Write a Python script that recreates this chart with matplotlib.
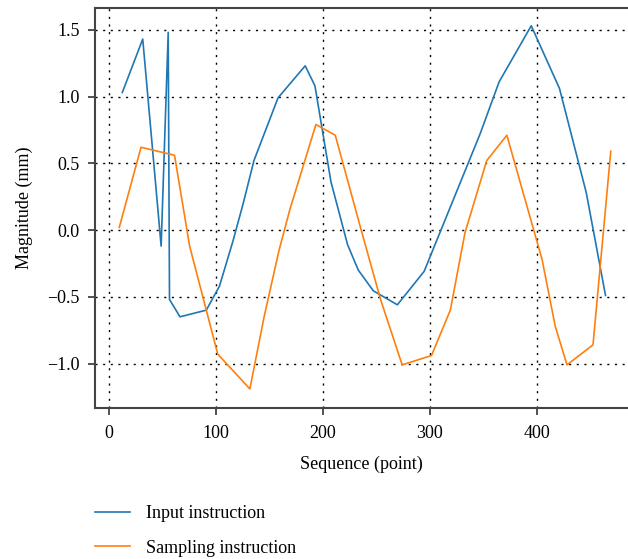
import matplotlib
matplotlib.use("Agg")
import matplotlib.pyplot as plt

plt.rcParams['font.family'] = ['Liberation Serif', 'DejaVu Serif']
plt.rcParams['font.size'] = 13

# Input instruction (blue)
input_x = [12.5, 31.6, 48.8, 55.4, 56.6, 66.4, 91, 103.3, 116, 125.5, 135.5,
           158, 183.4, 192.5, 207.5, 223, 233, 247, 269.5, 294.5, 326, 346.8,
           364.6, 394.6, 421, 446, 464]
input_y = [1.03, 1.43, -0.12, 1.48, -0.52, -0.65, -0.60, -0.42, -0.08, 0.20, 0.52,
           0.99, 1.23, 1.08, 0.36, -0.11, -0.30, -0.455, -0.56, -0.31, 0.31, 0.72,
           1.11, 1.53, 1.06, 0.28, -0.49]

# Sampling instruction (orange)
sample_x = [9.7, 30, 61.3, 75.4, 101.7, 131.7, 145, 159, 169.3, 193.4, 211.5,
            235.7, 253.8, 274, 301.4, 319, 332.7, 353, 371.8, 404.7, 417, 428,
            452.3, 468.9]
sample_y = [0.02, 0.62, 0.56, -0.12, -0.93, -1.19, -0.65, -0.15, 0.16, 0.79, 0.71,
            0.0, -0.52, -1.01, -0.94, -0.60, -0.02, 0.52, 0.71, -0.22, -0.72, -1.01,
            -0.86, 0.59]

fig = plt.figure(figsize=(6.28, 5.59), dpi=100)
ax = fig.add_axes([95 / 628, 1 - 408 / 559, 1 - 95 / 628, 400 / 559])

l1, = ax.plot(input_x, input_y, color='#1f77b4', linewidth=1.2, label='Input instruction')
l2, = ax.plot(sample_x, sample_y, color='#ff7f0e', linewidth=1.2, label='Sampling instruction')

ax.set_xlim(-13, 485)
ax.set_ylim(-1.333, 1.663)
ax.set_xticks([0, 100, 200, 300, 400])
ax.set_yticks([-1.0, -0.5, 0.0, 0.5, 1.0, 1.5])
ax.set_yticklabels(['\u22121.0', '\u22120.5', '0.0', '0.5', '1.0', '1.5'])
ax.grid(True, linestyle=(0, (1.5, 4)), color='black', linewidth=1.0)
ax.tick_params(direction='out', length=5, width=1.2, color='#333333')
ax.tick_params(axis='x', pad=7)
ax.tick_params(axis='y', pad=6)

for s in ['left', 'bottom', 'top']:
    ax.spines[s].set_color('#444444')
    ax.spines[s].set_linewidth(1.5)
ax.spines['right'].set_visible(False)

ax.set_xlabel('Sequence (point)', labelpad=10)
ax.set_ylabel('Magnitude (mm)', labelpad=10)

fig.legend(handles=[l1, l2], loc='upper left', bbox_to_anchor=(95 / 628, 1 - 505 / 559),
           frameon=False, borderpad=0, borderaxespad=0, handlelength=1.95,
           handletextpad=0.85, labelspacing=0.97, fontsize=13)

fig.savefig('out.png', dpi=100)
